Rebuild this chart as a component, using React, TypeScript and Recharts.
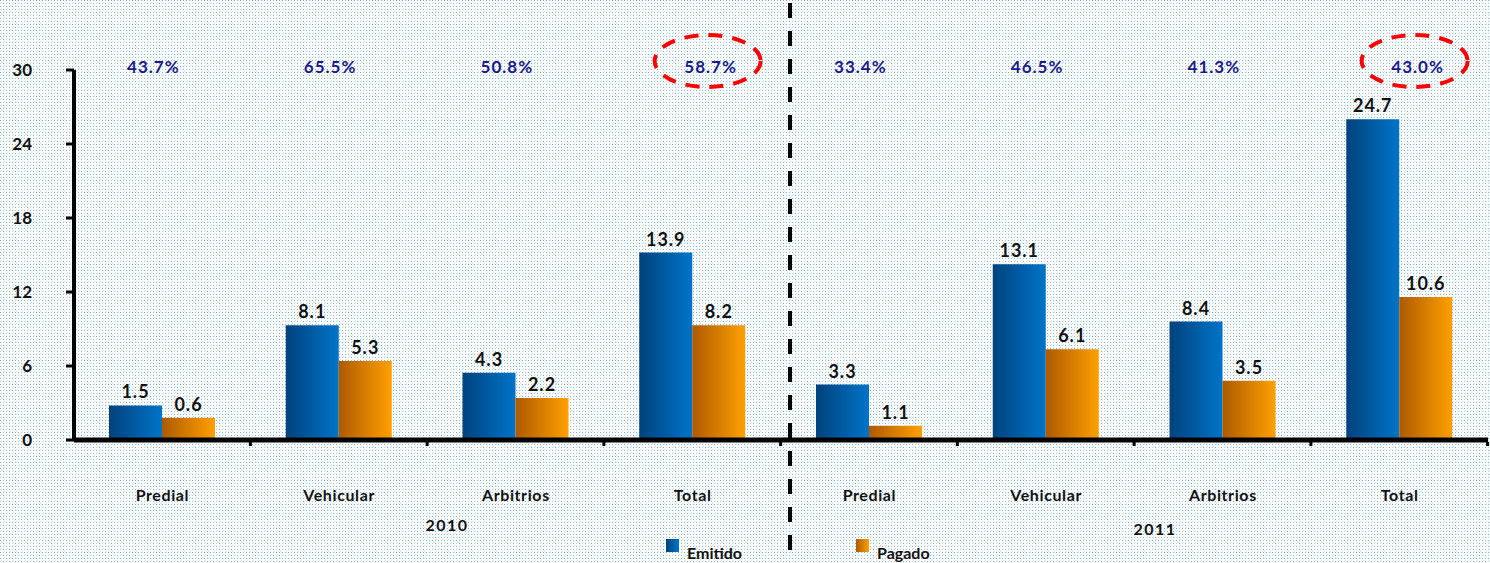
import React from 'react';
import { BarChart, Bar, XAxis, YAxis, LabelList } from 'recharts';

// categorías y valores
const categories = ['Predial', 'Vehicular', 'Arbitrios', 'Total', 'Predial', 'Vehicular', 'Arbitrios', 'Total'];
// altura dibujada de cada barra (estimada desde la imagen)
const emitido = [2.8, 9.3, 5.45, 15.2, 4.5, 14.25, 9.6, 26.0];
const pagado = [1.8, 6.4, 3.4, 9.3, 1.15, 7.35, 4.8, 11.6];
// etiquetas de dato tal como aparecen
const emitidoLabels = ['1.5', '8.1', '4.3', '13.9', '3.3', '13.1', '8.4', '24.7'];
const pagadoLabels = ['0.6', '5.3', '2.2', '8.2', '1.1', '6.1', '3.5', '10.6'];
const porcentajes = ['43.7%', '65.5%', '50.8%', '58.7%', '33.4%', '46.5%', '41.3%', '43.0%'];
const destacados = [false, false, false, true, false, false, false, true];
const years = ['2010', '2011'];
const yTicks = [0, 6, 12, 18, 24, 30];

const data = categories.map((cat, i) => ({
  id: `${cat}-${i}`,
  cat,
  emitido: emitido[i],
  pagado: pagado[i],
  eLabel: emitidoLabels[i],
  pLabel: pagadoLabels[i],
}));

const FONT = 'Lato, "DejaVu Sans", sans-serif';

const bgTile =
  "url(\"data:image/svg+xml,%3Csvg xmlns='http://www.w3.org/2000/svg' width='6' height='6'%3E%3Crect x='0' y='0' width='1' height='1' fill='%237aaecb'/%3E%3Crect x='3' y='0' width='1' height='1' fill='%239cc4da'/%3E%3Crect x='0' y='3' width='1' height='1' fill='%23b4d3e4'/%3E%3Crect x='3' y='3' width='1' height='1' fill='%237aaecb'/%3E%3Crect x='1' y='2' width='1' height='1' fill='%23d2e5ef'/%3E%3Crect x='4' y='5' width='1' height='1' fill='%23d2e5ef'/%3E%3C/svg%3E\")";

const renderValue = (props: any) => {
  const { x, y, width, value } = props;
  return (
    <text
      x={x + width / 2}
      y={y - 7}
      textAnchor="middle"
      fontFamily={FONT}
      fontWeight={700}
      fontSize={18}
      letterSpacing={1}
      fill="#111"
    >
      {value}
    </text>
  );
};

const CategoryTick = (props: any) => {
  const { x, payload } = props;
  const idx = payload.index;
  return (
    <g>
      <text
        x={x}
        y={501}
        textAnchor="middle"
        fontFamily={FONT}
        fontWeight={700}
        fontSize={16}
        letterSpacing={0.6}
        fill="#111"
      >
        {categories[idx]}
      </text>
      <line x1={x + 88} x2={x + 88} y1={442} y2={446} stroke="#000" strokeWidth={3} />
    </g>
  );
};

const PctTick = (props: any) => {
  const { x, payload } = props;
  const idx = payload.index;
  const hl = destacados[idx];
  const tx = hl ? x + 18 : x - 9;
  return (
    <g>
      {hl && (
        <ellipse
          cx={x + 15}
          cy={61}
          rx={53}
          ry={26}
          fill="none"
          stroke="#ff0000"
          strokeWidth={4}
          strokeDasharray="14 10"
        />
      )}
      <text
        x={tx}
        y={73}
        textAnchor="middle"
        fontFamily={FONT}
        fontWeight={700}
        fontSize={17}
        letterSpacing={1}
        fill="#1a1a8c"
      >
        {porcentajes[idx]}
      </text>
    </g>
  );
};

export default function App() {
  return (
    <div
      style={{
        position: 'absolute',
        left: 0,
        top: 0,
        width: 1490,
        height: 563,
        backgroundColor: '#ffffff',
        backgroundImage: bgTile,
        backgroundSize: '6px 6px',
      }}
    >
      <BarChart
        width={1490}
        height={563}
        data={data}
        margin={{ top: 0, right: 2, bottom: 0, left: 0 }}
        barCategoryGap={35}
        barGap={0}
      >
        <defs>
          <linearGradient id="gBlue" x1="0" y1="0" x2="1" y2="0">
            <stop offset="0%" stopColor="#00427c" />
            <stop offset="100%" stopColor="#0074c9" />
          </linearGradient>
          <linearGradient id="gOrange" x1="0" y1="0" x2="1" y2="0">
            <stop offset="0%" stopColor="#ad5a00" />
            <stop offset="100%" stopColor="#ffa000" />
          </linearGradient>
        </defs>
        <XAxis
          xAxisId="top"
          orientation="top"
          dataKey="id"
          height={70}
          axisLine={false}
          tickLine={false}
          tick={<PctTick />}
          interval={0}
        />
        <XAxis
          dataKey="id"
          height={123}
          axisLine={{ stroke: '#000', strokeWidth: 5 }}
          tickLine={false}
          tick={<CategoryTick />}
          interval={0}
        />
        <YAxis
          width={74}
          domain={[0, 30]}
          ticks={yTicks}
          interval={0}
          axisLine={{ stroke: '#000', strokeWidth: 4 }}
          tickLine={{ stroke: '#000', strokeWidth: 3 }}
          tickSize={8}
          tickMargin={34}
          tick={{ fontFamily: FONT, fontWeight: 700, fontSize: 17, fill: '#111' }}
        />
        <Bar dataKey="emitido" fill="url(#gBlue)" isAnimationActive={false}>
          <LabelList dataKey="eLabel" content={renderValue} />
        </Bar>
        <Bar dataKey="pagado" fill="url(#gOrange)" isAnimationActive={false}>
          <LabelList dataKey="pLabel" content={renderValue} />
        </Bar>
      </BarChart>

      {/* separador de años, etiquetas de año y leyenda */}
      <svg
        width={1490}
        height={563}
        style={{ position: 'absolute', left: 0, top: 0, pointerEvents: 'none' }}
      >
        <defs>
          <linearGradient id="lgBlue" x1="0" y1="0" x2="1" y2="0">
            <stop offset="0%" stopColor="#00427c" />
            <stop offset="100%" stopColor="#0074c9" />
          </linearGradient>
          <linearGradient id="lgOrange" x1="0" y1="0" x2="1" y2="0">
            <stop offset="0%" stopColor="#ad5a00" />
            <stop offset="100%" stopColor="#ffa000" />
          </linearGradient>
        </defs>
        <line x1={790} x2={790} y1={3} y2={550} stroke="#000" strokeWidth={4} strokeDasharray="15 13" />
        <text x={447} y={531} textAnchor="middle" fontFamily={FONT} fontWeight={700} fontSize={16} letterSpacing={1.5} fill="#111">
          {years[0]}
        </text>
        <text x={1155} y={535} textAnchor="middle" fontFamily={FONT} fontWeight={700} fontSize={16} letterSpacing={1.5} fill="#111">
          {years[1]}
        </text>
        <rect x={666} y={539} width={13} height={13} fill="url(#lgBlue)" />
        <text x={687} y={559} fontFamily={FONT} fontWeight={700} fontSize={16} fill="#111">
          Emitido
        </text>
        <rect x={856} y={539} width={13} height={13} fill="url(#lgOrange)" />
        <text x={877} y={559} fontFamily={FONT} fontWeight={700} fontSize={16} fill="#111">
          Pagado
        </text>
      </svg>
    </div>
  );
}
